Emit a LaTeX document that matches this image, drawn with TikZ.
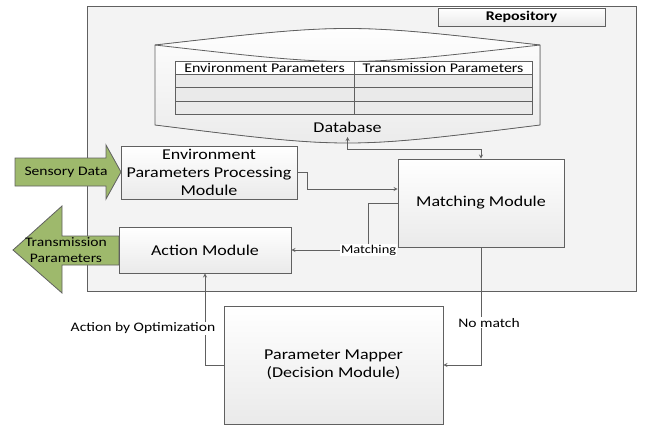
\documentclass[tikz,border=0pt]{standalone}
\usepackage{fontspec}
\setmainfont{Carlito}[FakeStretch=1.2]
\usepackage{tikz}
\usetikzlibrary{calc, shapes, arrows, positioning}
\definecolor{edgegray}{RGB}{96,96,96}
\definecolor{panelgray}{RGB}{243,243,243}
\definecolor{rowgray}{RGB}{234,234,234}
\definecolor{olivearrow}{RGB}{158,185,108}
\tikzset{
	module/.style={draw=edgegray, line width=0.8pt, top color=white, bottom color=rowgray, align=center, inner sep=1pt, font=\fontsize{15}{18}\selectfont},
	cell/.style={draw=edgegray, line width=0.8pt, inner sep=0pt, minimum height=13.4pt, font=\fontsize{13.3}{15}\selectfont},
	link/.style={draw=edgegray, line width=0.8pt, ->, >=stealth},
	linklabel/.style={fill=white, inner sep=1pt, font=\fontsize{13}{15}\selectfont},
	bigarrow/.style={draw=edgegray, line width=0.8pt, fill=olivearrow},
}

\begin{document}
\begin{tikzpicture}[x=1pt, y=-1pt]
	\useasboundingbox (0,0) rectangle (647,428);

	\node[draw=edgegray, line width=0.8pt, fill=panelgray, minimum width=549pt, minimum height=285pt, inner sep=0pt] (repo) at (361.5,148.5) {};
	\node[module, minimum width=167pt, minimum height=18pt, inner sep=0pt, font=\bfseries\fontsize{13.3}{15}\selectfont] (repotab) at (521.5,17) {Repository};

	\filldraw[draw=edgegray, line width=0.8pt, top color=white, bottom color=rowgray] (155,45) .. controls (347.5,23) .. (540,45) -- (540,125) .. controls (347.5,149) .. (155,125) -- cycle;
	\draw[edgegray, line width=0.8pt] (155,45) .. controls (347.5,67) .. (540,45);
	\coordinate (dbbot) at (347.5,137);
	\node[font=\fontsize{15}{18}\selectfont] (dblabel) at (347.5,127) {Database};

	\node[cell, fill=white, minimum width=179pt] (envhead) at (264.5,67.7) {Environment Parameters};
	\node[cell, fill=white, minimum width=178pt] (txhead) at (443,67.7) {Transmission Parameters};
	\foreach \r in {1,2,3} {
		\node[cell, fill=rowgray, minimum width=179pt] (envrow\r) at (264.5,67.7+13.4*\r) {};
		\node[cell, fill=rowgray, minimum width=178pt] (txrow\r) at (443,67.7+13.4*\r) {};
	}

	\draw[bigarrow] (15,158) -- (106,158) -- (106,145) -- (121,172) -- (106,199) -- (106,186) -- (15,186) -- cycle;
	\node[font=\fontsize{13}{15}\selectfont] (sensory) at (66,172) {Sensory Data};
	\draw[bigarrow] (119,236) -- (62,236) -- (62,206) -- (13,250) -- (62,293) -- (62,265) -- (119,265) -- cycle;
	\node[align=center, font=\fontsize{13}{16}\selectfont] (txparams) at (66,250) {Transmission\\Parameters};

	\node[module, minimum width=176pt, minimum height=53pt] (env) at (209,172.5) {Environment\\Parameters Processing\\Module};
	\node[module, minimum width=172pt, minimum height=46pt] (action) at (205,250) {Action Module};
	\node[module, minimum width=166pt, minimum height=88pt] (match) at (481,203) {Matching Module};
	\node[module, minimum width=219pt, minimum height=118pt] (mapper) at (333.5,365) {Parameter Mapper\\(Decision Module)};

	\draw[link, <->] (dbbot) -- ++(0,12) -| (match.north);
	\draw[link] (env.east) -- ++(10,0) |- ([yshift=14pt]match.west);
	\draw[link] (match.west) -- ++(-29,0) |- node[linklabel, pos=0.5, font=\fontsize{12}{14}\selectfont] {Matching} (action.east);
	\draw[link] (match.south) |- node[linklabel, pos=0.32, xshift=8pt] {No match} (mapper.east);
	\draw[link] (mapper.west) -| node[linklabel, pos=0.7, xshift=-62pt] {Action by Optimization} (action.south);
\end{tikzpicture}
\end{document}
